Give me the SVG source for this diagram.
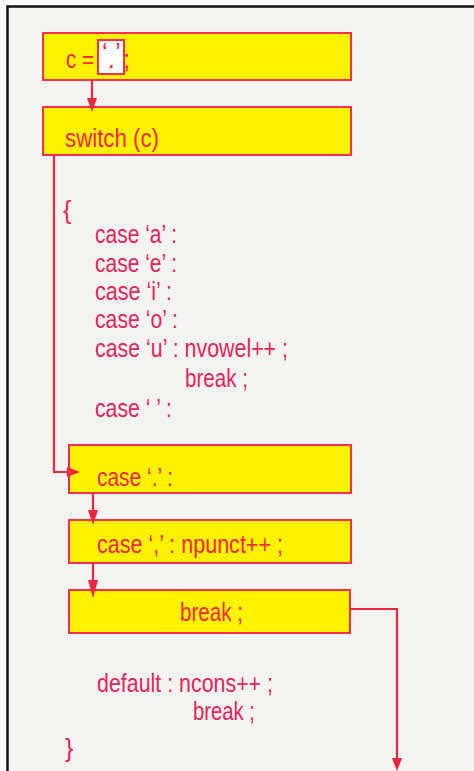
<svg xmlns="http://www.w3.org/2000/svg" width="474" height="771" viewBox="0 0 474 771">
<style>
.box{fill:#fff200;stroke:#f8304a;stroke-width:2}
.bt{font-family:"Liberation Sans Narrow","Liberation Sans",Arial,sans-serif;font-size:26px;fill:#f42a3c}
.ct{font-family:"Liberation Sans Narrow","Liberation Sans",Arial,sans-serif;font-size:25px;fill:#e6245c}
.ln{fill:none;stroke:#f2243e;stroke-width:2.2}
.ah{fill:#f2243e}
</style>
<rect x="0" y="0" width="474" height="771" fill="#fbfbfb"/>
<rect x="8" y="7" width="466" height="764" fill="#f3f3f1"/>
<path d="M474 6.5 H7.5 V771" fill="none" stroke="#111" stroke-width="2.5"/>
<g id="n1">
<rect class="box" x="43" y="33" width="308" height="47"/>
<text class="bt" x="66" y="68" textLength="28" lengthAdjust="spacingAndGlyphs">c =</text>
<text class="bt" x="123" y="68">;</text>
<rect x="98" y="40" width="26" height="34" fill="#ffffff" stroke="#f8304a" stroke-width="2"/>
<text class="bt" x="102" y="61" font-size="15">‘<tspan dy="7">.</tspan><tspan dy="-7">’</tspan></text>
</g>
<g id="n2">
<rect class="box" x="43" y="107" width="308" height="48"/>
<text class="bt" x="65" y="147" textLength="94" lengthAdjust="spacingAndGlyphs">switch (c)</text>
</g>
<g id="body">
<text class="ct" x="63" y="219" font-size="27">{</text>
<text class="ct" x="95" y="243" textLength="82" lengthAdjust="spacingAndGlyphs">case ‘a’ :</text>
<text class="ct" x="95" y="272" textLength="82" lengthAdjust="spacingAndGlyphs">case ‘e’ :</text>
<text class="ct" x="95" y="300" textLength="77" lengthAdjust="spacingAndGlyphs">case ‘i’ :</text>
<text class="ct" x="95" y="328" textLength="83" lengthAdjust="spacingAndGlyphs">case ‘o’ :</text>
<text class="ct" x="95" y="357" textLength="193" lengthAdjust="spacingAndGlyphs">case ‘u’ : nvowel++ ;</text>
<text class="ct" x="185" y="387" textLength="63" lengthAdjust="spacingAndGlyphs">break ;</text>
<text class="ct" x="95" y="417" textLength="77" lengthAdjust="spacingAndGlyphs">case ‘ ’ :</text>
</g>
<g id="n3">
<rect class="box" x="69" y="445" width="282" height="48"/>
<text class="bt" x="97" y="486" textLength="76" lengthAdjust="spacingAndGlyphs">case ‘.’ :</text>
</g>
<g id="n4">
<rect class="box" x="69" y="520" width="282" height="43"/>
<text class="bt" x="97" y="553" textLength="186" lengthAdjust="spacingAndGlyphs">case ‘,’ : npunct++ ;</text>
</g>
<g id="n5">
<rect class="box" x="69" y="590" width="281" height="43"/>
<text class="bt" x="180" y="621" textLength="63" lengthAdjust="spacingAndGlyphs">break ;</text>
</g>
<g id="tail">
<text class="ct" x="97" y="692" textLength="176" lengthAdjust="spacingAndGlyphs">default : ncons++ ;</text>
<text class="ct" x="193" y="720" textLength="62" lengthAdjust="spacingAndGlyphs">break ;</text>
<text class="ct" x="65" y="757" font-size="27">}</text>
</g>
<g id="connectors">
<path class="ln" d="M92 80 V100"/>
<path class="ah" d="M87 98 L97 98 L92 112 Z"/>
<path class="ln" d="M54 155 V472 H70"/>
<path class="ah" d="M67 467 L67 477 L80 472 Z"/>
<path class="ln" d="M93 493 V512"/>
<path class="ah" d="M88 510 L98 510 L93 525 Z"/>
<path class="ln" d="M93 563 V582"/>
<path class="ah" d="M88 580 L98 580 L93 598 Z"/>
<path class="ln" d="M350 609 H397 V760"/>
<path class="ah" d="M392 758 L402 758 L397 771 Z"/>
</g>
</svg>
